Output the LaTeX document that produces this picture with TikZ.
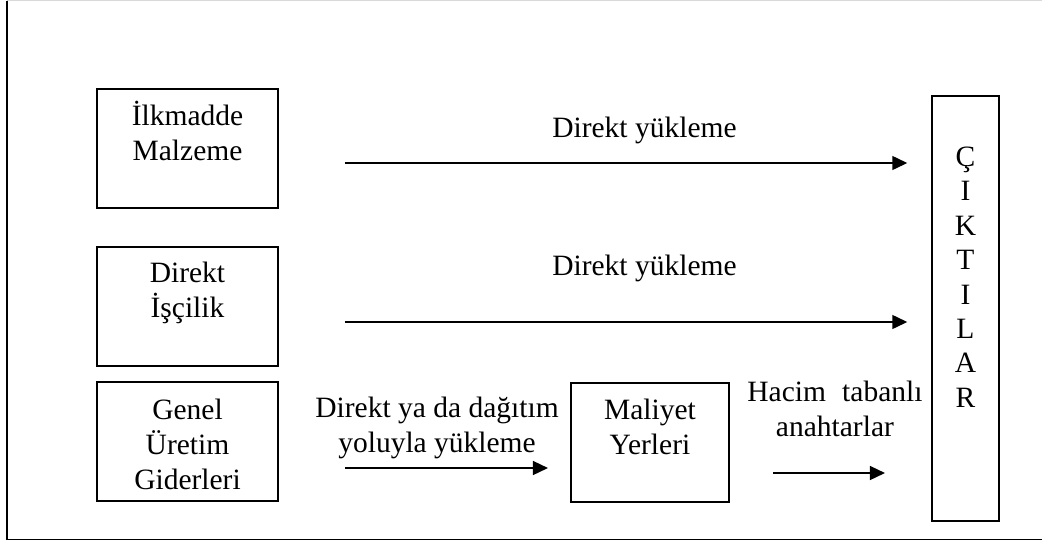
\documentclass[tikz,border=0pt]{standalone}
\usepackage{fontspec}
\setmainfont{Liberation Serif}
\usetikzlibrary{arrows.meta,positioning}

\begin{document}
\begin{tikzpicture}[x=1pt,y=-1pt]
	\tikzset{kutu/.style = {shape=rectangle,draw,line width=1.5pt,minimum width=181pt,minimum height=119pt,inner sep=0pt}}
	\tikzset{yazi/.style = {align=center,inner sep=0pt,font=\fontsize{29.5}{35}\selectfont}}
	\tikzset{ok/.style = {line width=1.5pt,-{Triangle[length=15pt,width=14pt]}}}
	\useasboundingbox (0,0) rectangle (1042,544);
    % frame
	\draw[gray!30,line width=1pt] (1042,0.5) -- (7,0.5);
	\draw[line width=1.6pt] (7,0.5) -- (7,539.5) -- (1042,539.5);
    % boxes
	\node[kutu] (ilk) at (187.5,148.5) {};
	\node[kutu] (iscilik) at (187.5,306.5) {};
	\node[kutu] (genel) at (187.5,441.5) {};
	\node[kutu,minimum width=158pt] (maliyet) at (650,442.5) {};
	\node[kutu,minimum width=67pt,minimum height=425pt] (cikti) at (965.5,308.5) {};
    % box texts
	\node[yazi,below=13pt of ilk.north] (ilkT) {İlkmadde\\Malzeme};
	\node[yazi,below=16pt of iscilik.north] (iscilikT) {Direkt\\İşçilik};
	\node[yazi,below=18pt of genel.north] (genelT) {Genel\\Üretim\\Giderleri};
	\node[yazi,below=17pt of maliyet.north] (maliyetT) {Maliyet\\Yerleri};
	\node[yazi,font=\fontsize{29.5}{34.4}\selectfont,below=51.5pt of cikti.north] (ciktiT) {Ç\\I\\K\\T\\I\\L\\A\\R};
    % arrows
	\draw[ok,shorten <=66pt,shorten >=24pt] ([yshift=-14.5pt]ilk.east) -- ([yshift=-14.5pt]ilk.east -| cikti.west)
		node[yazi,pos=0.5605,above=18pt] (y1) {Direkt yükleme};
	\draw[ok,shorten <=66pt,shorten >=24pt] ([yshift=-15.5pt]iscilik.east) -- ([yshift=-15.5pt]iscilik.east -| cikti.west)
		node[yazi,pos=0.5605,above=39pt] (y2) {Direkt yükleme};
	\draw[ok,shorten <=66pt,shorten >=22.3pt] ([yshift=-26.5pt]genel.east) -- ([yshift=-26.5pt]genel.east -| maliyet.west)
		node[yazi,pos=0.543,above=8.6pt] (y3) {Direkt ya da dağıtım\\yoluyla yükleme};
	\draw[ok,shorten <=43.3pt,shorten >=46.3pt] ([yshift=-30.5pt]maliyet.east) -- ([yshift=-30.5pt]maliyet.east -| cikti.west)
		node[yazi,pos=0.522,above=35pt] (y4) {Hacim\hspace{0.55em}tabanlı\\anahtarlar};
\end{tikzpicture}
\end{document}
